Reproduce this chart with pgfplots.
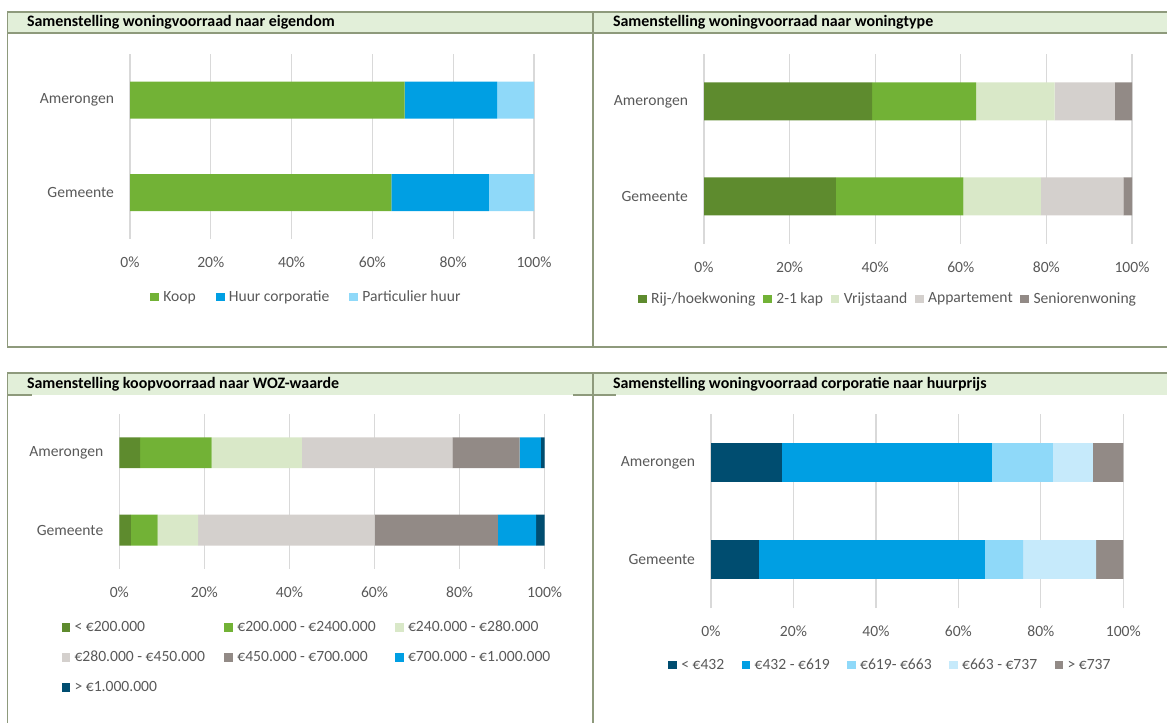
\documentclass[border=0pt]{standalone}
\usepackage{pgfplots}
\pgfplotsset{compat=1.18}
\usepackage{fontspec}
\setmainfont{Carlito}
\definecolor{bordergreen}{HTML}{8E9A7C}
\definecolor{bandgreen}{HTML}{E2EFD9}
\definecolor{txtgray}{HTML}{595959}
\definecolor{gridgray}{HTML}{D9D9D9}
\definecolor{cKoop}{HTML}{72B236}
\definecolor{cHuur}{HTML}{009FE3}
\definecolor{cPart}{HTML}{8FD9F9}
\definecolor{cDkGreen}{HTML}{5E8B2E}
\definecolor{cLtGreen}{HTML}{D9E8C8}
\definecolor{cLtGray}{HTML}{D4D0CD}
\definecolor{cDkGray}{HTML}{928A86}
\definecolor{cNavy}{HTML}{004D70}
\definecolor{cPaleBlue}{HTML}{C6EAFB}
\newcommand{\fs}{\fontsize{11.7}{14}\selectfont}
\newcommand{\ft}{\fontsize{11.95}{14}\selectfont}
\pgfplotsset{
  panel/.style={
    xbar stacked, scale only axis,
    legend image code/.code={\fill[##1, draw=none] (0pt,-3.3pt) rectangle (6.6pt,3.3pt);},
    xmin=0, xmax=100, ymin=-0.5, ymax=1.5,
    ytick={0,1}, yticklabels={Gemeente,Amerongen},
    xtick={0,20,40,60,80,100},
    xticklabel={\pgfmathprintnumber{\tick}\%},
    /pgf/number format/assume math mode=true,
    axis line style={draw=none}, major tick length=0pt,
    xmajorgrids, grid style={gridgray, line width=0.9pt},
    bar width=0.4,
    every tick label/.append style={font=\fs, text=txtgray},
    xticklabel style={yshift=-9.5pt},
    yticklabel style={xshift=-8.5pt},
    legend cell align=left,
  },
}
\begin{document}
\begin{tikzpicture}
\useasboundingbox (0,0) rectangle (875.25pt,-542.25pt);
% frames
\fill[bandgreen] (5.8pt,-9pt) rectangle (880pt,-24.75pt);
\draw[bordergreen, line width=1.1pt] (880pt,-9pt) -- (5.8pt,-9pt) -- (5.8pt,-260.25pt) -- (880pt,-260.25pt);
\draw[bordergreen, line width=1.1pt] (5.8pt,-24.75pt) -- (880pt,-24.75pt);
\draw[bordergreen, line width=1.1pt] (444.75pt,-9pt) -- (444.75pt,-260.25pt);
\fill[bandgreen] (5.8pt,-279.75pt) rectangle (880pt,-296.25pt);
\draw[bordergreen, line width=1.1pt] (880pt,-279.75pt) -- (5.8pt,-279.75pt) -- (5.8pt,-560pt);
\draw[bordergreen, line width=1.1pt] (444.75pt,-279.75pt) -- (444.75pt,-560pt);
\draw[bordergreen, line width=1.1pt] (5.8pt,-296.25pt) -- (24pt,-296.25pt);
\draw[bordergreen, line width=1.1pt] (430pt,-296.25pt) -- (462pt,-296.25pt);
% titles
\node[anchor=west, inner sep=0pt, font=\ft\bfseries] at (20.1pt,-16.9pt) {Samenstelling woningvoorraad naar eigendom};
\node[anchor=west, inner sep=0pt, font=\ft\bfseries] at (459.6pt,-16.9pt) {Samenstelling woningvoorraad naar woningtype};
\node[anchor=west, inner sep=0pt, font=\ft\bfseries] at (20.1pt,-288pt) {Samenstelling koopvoorraad naar WOZ-waarde};
\node[anchor=west, inner sep=0pt, font=\ft\bfseries] at (459.6pt,-288pt) {Samenstelling woningvoorraad corporatie naar huurprijs};

% Panel 1
\begin{axis}[panel, at={(97.5pt,-40.5pt)}, anchor=north west, width=303pt, height=138.75pt,
  legend columns=-1,
  legend style={draw=none, fill=none, inner sep=0pt, font=\fs, text=txtgray,
    at={(0.0495,-0.3135)}, anchor=west,
    /tikz/every odd column/.append style={column sep=1.2pt},
    /tikz/every even column/.append style={column sep=13pt}}]
\addplot[fill=cKoop, draw=none] coordinates {(64.7,0) (68.0,1)};
\addplot[fill=cHuur, draw=none] coordinates {(24.1,0) (22.9,1)};
\addplot[fill=cPart, draw=none] coordinates {(11.2,0) (9.1,1)};
\legend{Koop, Huur corporatie, Particulier huur}
\end{axis}

% Panel 2
\begin{axis}[panel, at={(528pt,-40.5pt)}, anchor=north west, width=321pt, height=142.5pt,
  legend columns=-1,
  legend style={draw=none, fill=none, inner sep=0pt, font=\fs, text=txtgray,
    at={(-0.1547,-0.289)}, anchor=west,
    /tikz/every odd column/.append style={column sep=1.2pt},
    /tikz/every even column/.append style={column sep=3.8pt}}]
\addplot[fill=cDkGreen, draw=none] coordinates {(30.8,0) (39.3,1)};
\addplot[fill=cKoop, draw=none] coordinates {(29.8,0) (24.3,1)};
\addplot[fill=cLtGreen, draw=none] coordinates {(18.1,0) (18.3,1)};
\addplot[fill=cLtGray, draw=none] coordinates {(19.3,0) (14.1,1)};
\addplot[fill=cDkGray, draw=none] coordinates {(2.0,0) (4.0,1)};
\legend{Rij-/hoekwoning, 2-1 kap, Vrijstaand, Appartement, Seniorenwoning}
\end{axis}

% Panel 3
\begin{axis}[panel, at={(89.5pt,-310.5pt)}, anchor=north west, width=319pt, height=116.25pt,
  legend columns=3,
  legend style={draw=none, fill=none, inner sep=0pt, font=\fs, text=txtgray,
    at={(-0.1366,-0.316)}, anchor=north west, row sep=9.25pt,
    /tikz/every odd column/.append style={column sep=1.2pt},
    /tikz/every even column/.append style={column sep=12.5pt}}]
\addplot[fill=cDkGreen, draw=none] coordinates {(2.7,0) (4.9,1)};
\addplot[fill=cKoop, draw=none] coordinates {(6.3,0) (16.8,1)};
\addplot[fill=cLtGreen, draw=none] coordinates {(9.5,0) (21.2,1)};
\addplot[fill=cLtGray, draw=none] coordinates {(41.5,0) (35.4,1)};
\addplot[fill=cDkGray, draw=none] coordinates {(29.0,0) (15.8,1)};
\addplot[fill=cHuur, draw=none] coordinates {(9.0,0) (5.0,1)};
\addplot[fill=cNavy, draw=none] coordinates {(2.0,0) (0.9,1)};
\legend{< €200.000, €200.000 - €2400.000, €240.000 - €280.000, €280.000 - €450.000, €450.000 - €700.000, €700.000 - €1.000.000, > €1.000.000}
\end{axis}

% Panel 4
\begin{axis}[panel, at={(533.25pt,-310.5pt)}, anchor=north west, width=309.2pt, height=145.5pt,
  legend columns=-1,
  legend style={draw=none, fill=none, inner sep=0pt, font=\fs, text=txtgray,
    at={(-0.1043,-0.2938)}, anchor=west,
    /tikz/every odd column/.append style={column sep=1.2pt},
    /tikz/every even column/.append style={column sep=11pt}}]
\addplot[fill=cNavy, draw=none] coordinates {(11.6,0) (17.2,1)};
\addplot[fill=cHuur, draw=none] coordinates {(54.8,0) (50.9,1)};
\addplot[fill=cPart, draw=none] coordinates {(9.3,0) (14.8,1)};
\addplot[fill=cPaleBlue, draw=none] coordinates {(17.7,0) (9.7,1)};
\addplot[fill=cDkGray, draw=none] coordinates {(6.6,0) (7.4,1)};
\legend{< €432, €432 - €619, €619- €663, €663 - €737, > €737}
\end{axis}
\end{tikzpicture}
\end{document}
